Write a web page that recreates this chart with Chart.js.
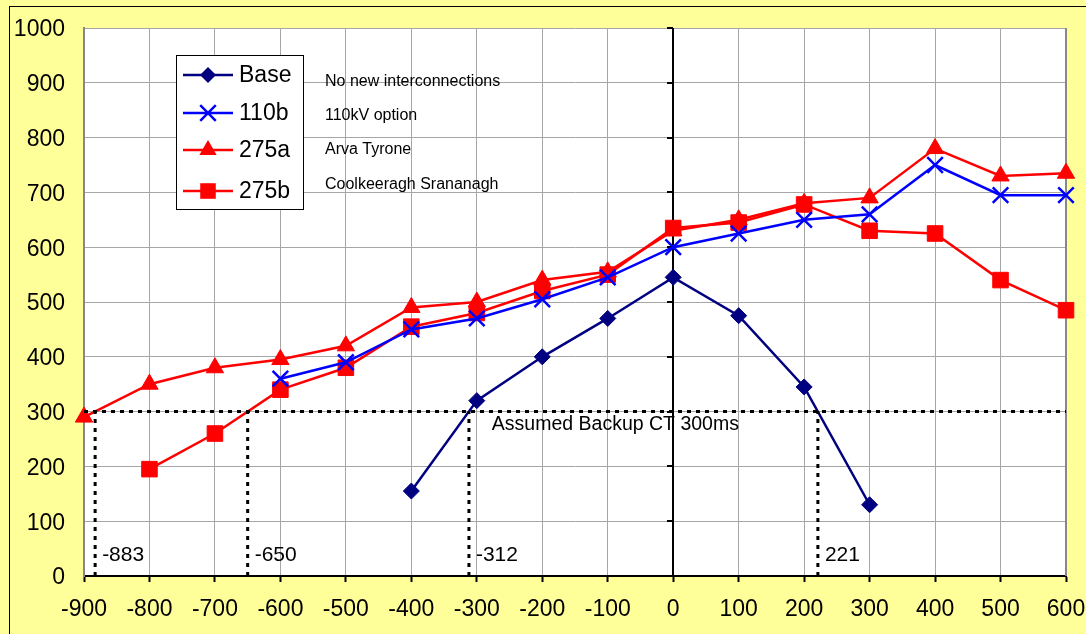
<!DOCTYPE html>
<html>
<head>
<meta charset="utf-8">
<script src="https://cdn.jsdelivr.net/npm/chart.js@4.4.0/dist/chart.umd.min.js"></script>
<style>
html, body { margin: 0; padding: 0; background: #ffff99; }
#wrap { position: relative; width: 1086px; height: 634px; }
</style>
</head>
<body>
<div id="wrap"><canvas id="chart"></canvas></div>
<script>
// series values
const xBase = [-400, -300, -200, -100, 0, 100, 200, 300];
const yBase = [155, 320, 400, 470, 545, 475, 345, 130];

const x110b = [-600, -500, -400, -300, -200, -100, 0, 100, 200, 300, 400, 500, 600];
const y110b = [360, 390, 450, 470, 505, 545, 600, 625, 650, 660, 750, 695, 695];

const x275a = [-900, -800, -700, -600, -500, -400, -300, -200, -100, 0, 100, 200, 300, 400, 500, 600];
const y275a = [290, 350, 380, 395, 420, 490, 500, 540, 555, 630, 650, 680, 690, 780, 730, 735];

const x275b = [-800, -700, -600, -500, -400, -300, -200, -100, 0, 100, 200, 300, 400, 500, 600];
const y275b = [195, 260, 340, 380, 455, 480, 520, 550, 635, 645, 678, 630, 625, 540, 485];

const seriesNames = ['Base', '110b', '275a', '275b'];
const seriesNotes = ['No new interconnections', '110kV option', 'Arva Tyrone', 'Coolkeeragh Srananagh'];

const backupCT = 300;
const backupLabel = 'Assumed Backup CT 300ms';
const crossings = [-883, -650, -312, 221];

const xMin = -900, xMax = 600, yMin = 0, yMax = 1000;

const FONT = '"Liberation Sans", Arial, sans-serif';

function pts(xs, ys) {
    return xs.map((x, i) => ({ x: x, y: ys[i] }));
}

function seriesDataset(label, xs, ys, color, style, radius) {
    return {
        label: label,
        data: pts(xs, ys),
        showLine: true,
        borderColor: color,
        backgroundColor: color,
        borderWidth: 2.5,
        pointStyle: style,
        pointRadius: radius,
        pointBackgroundColor: color,
        pointBorderColor: color,
        pointBorderWidth: style === 'crossRot' ? 2.5 : 1,
        clip: false
    };
}

function dottedDataset(data) {
    return {
        label: '',
        data: data,
        showLine: true,
        borderColor: '#000',
        borderWidth: 3,
        borderDash: [4, 5],
        pointRadius: 0,
        clip: false
    };
}

const datasets = [];
datasets.push(dottedDataset([{ x: xMin, y: backupCT }, { x: xMax, y: backupCT }]));
crossings.forEach(c => datasets.push(dottedDataset([{ x: c, y: yMin }, { x: c, y: backupCT }])));
const seriesSets = [
    seriesDataset('Base', xBase, yBase, '#000080', 'rectRot', 8),
    seriesDataset('110b', x110b, y110b, '#0000ff', 'crossRot', 11),
    seriesDataset('275a', x275a, y275a, '#ff0000', 'triangle', 10),
    seriesDataset('275b', x275b, y275b, '#ff0000', 'rect', 11)
];
seriesSets.forEach(d => datasets.push(d));

// small marker painter for the legend box
function drawMarker(ctx, style, x, y, r, color) {
    ctx.save();
    ctx.fillStyle = color;
    ctx.strokeStyle = color;
    ctx.beginPath();
    if (style === 'rectRot') {
        ctx.moveTo(x, y - r); ctx.lineTo(x + r, y); ctx.lineTo(x, y + r); ctx.lineTo(x - r, y);
        ctx.closePath(); ctx.fill();
    } else if (style === 'crossRot') {
        const d = r * Math.SQRT1_2;
        ctx.lineWidth = 2.5;
        ctx.moveTo(x - d, y - d); ctx.lineTo(x + d, y + d);
        ctx.moveTo(x + d, y - d); ctx.lineTo(x - d, y + d);
        ctx.stroke();
    } else if (style === 'triangle') {
        ctx.moveTo(x, y - r);
        ctx.lineTo(x + r * 0.866, y + r / 2);
        ctx.lineTo(x - r * 0.866, y + r / 2);
        ctx.closePath(); ctx.fill();
    } else {
        const s = r * Math.SQRT1_2;
        ctx.rect(x - s, y - s, 2 * s, 2 * s); ctx.fill();
    }
    ctx.restore();
}

const backgroundPlugin = {
    id: 'background',
    beforeDraw(chart) {
        const ctx = chart.ctx, a = chart.chartArea;
        ctx.save();
        ctx.fillStyle = '#ffff99';
        ctx.fillRect(0, 0, chart.width, chart.height);
        ctx.strokeStyle = '#000';
        ctx.lineWidth = 1;
        ctx.strokeRect(9.5, 6.5, chart.width + 20, chart.height + 20);
        ctx.fillStyle = '#fff';
        ctx.fillRect(a.left, a.top, a.right - a.left, a.bottom - a.top);
        ctx.restore();
    }
};

const zeroAxisPlugin = {
    id: 'zeroAxis',
    beforeDatasetsDraw(chart) {
        const ctx = chart.ctx, a = chart.chartArea;
        const xs = chart.scales.x, ys = chart.scales.y;
        const x0 = Math.round(xs.getPixelForValue(0));
        ctx.save();
        ctx.strokeStyle = '#888';
        ctx.lineWidth = 2;
        ctx.beginPath();
        ctx.moveTo(a.right, a.top); ctx.lineTo(a.right, a.bottom);
        ctx.stroke();
        ctx.strokeStyle = '#000';
        ctx.lineWidth = 2;
        ctx.beginPath();
        ctx.moveTo(x0, a.top); ctx.lineTo(x0, a.bottom);
        ys.ticks.forEach(t => {
            const y = Math.round(ys.getPixelForValue(t.value));
            ctx.moveTo(x0, y); ctx.lineTo(x0 - 6, y);
        });
        ctx.stroke();
        ctx.restore();
    }
};

const annotationPlugin = {
    id: 'annotations',
    afterDatasetsDraw(chart) {
        const ctx = chart.ctx;
        const xs = chart.scales.x, ys = chart.scales.y;
        ctx.save();
        ctx.fillStyle = '#000';
        ctx.textBaseline = 'middle';
        ctx.textAlign = 'left';

        // crossing values along the bottom
        ctx.font = '21px ' + FONT;
        crossings.forEach(c => {
            ctx.fillText(String(c), xs.getPixelForValue(c) + 7, ys.getPixelForValue(yMin) - 21);
        });

        // backup CT label
        ctx.font = '19.5px ' + FONT;
        ctx.fillText(backupLabel, xs.getPixelForValue(-277), ys.getPixelForValue(backupCT) + 13);

        // legend box
        const bx = 176, by = 55, bw = 127, bh = 154;
        ctx.fillStyle = '#fff';
        ctx.fillRect(bx, by, bw, bh);
        ctx.strokeStyle = '#000';
        ctx.lineWidth = 1;
        ctx.strokeRect(bx + 0.5, by + 0.5, bw, bh);
        const rowY = [75, 113, 150, 191];
        ctx.font = '23px ' + FONT;
        seriesSets.forEach((d, i) => {
            const y = rowY[i];
            ctx.strokeStyle = d.borderColor;
            ctx.lineWidth = 2.5;
            ctx.beginPath();
            ctx.moveTo(183, y); ctx.lineTo(233, y);
            ctx.stroke();
            drawMarker(ctx, d.pointStyle, 208, y, d.pointRadius, d.borderColor);
            ctx.fillStyle = '#000';
            ctx.fillText(seriesNames[i], 239, y + 1);
        });

        // notes beside the legend
        ctx.font = '16px ' + FONT;
        const noteY = [82, 116, 150, 185];
        seriesNotes.forEach((n, i) => ctx.fillText(n, 325, noteY[i]));
        ctx.restore();
    }
};

const ctx = document.getElementById('chart').getContext('2d');
new Chart(ctx, {
    type: 'scatter',
    data: { datasets: datasets },
    options: {
        responsive: true,
        maintainAspectRatio: false,
        animation: false,
        layout: { padding: { left: 0, top: 28, right: 20, bottom: 0 } },
        plugins: { legend: { display: false }, tooltip: { enabled: false } },
        scales: {
            x: {
                type: 'linear',
                min: xMin,
                max: xMax,
                ticks: { stepSize: 100, color: '#000', font: { family: FONT, size: 23 }, padding: 14, maxRotation: 0 },
                grid: { color: '#a6a6a6', lineWidth: 1, tickLength: 6, tickColor: '#000', tickWidth: 2 },
                border: { color: '#000', width: 2 },
                afterFit: s => { s.height = 58; s.paddingLeft = 0; s.paddingRight = 0; }
            },
            y: {
                type: 'linear',
                min: yMin,
                max: yMax,
                ticks: { stepSize: 100, color: '#000', font: { family: FONT, size: 23 }, padding: 19, labelOffset: 2, callback: v => String(v) },
                grid: { color: '#a6a6a6', lineWidth: 1, drawTicks: false },
                border: { color: '#888', width: 2 },
                afterFit: s => { s.width = 84; s.paddingTop = 0; s.paddingBottom = 0; }
            }
        }
    },
    plugins: [backgroundPlugin, zeroAxisPlugin, annotationPlugin]
});
</script>
</body>
</html>
